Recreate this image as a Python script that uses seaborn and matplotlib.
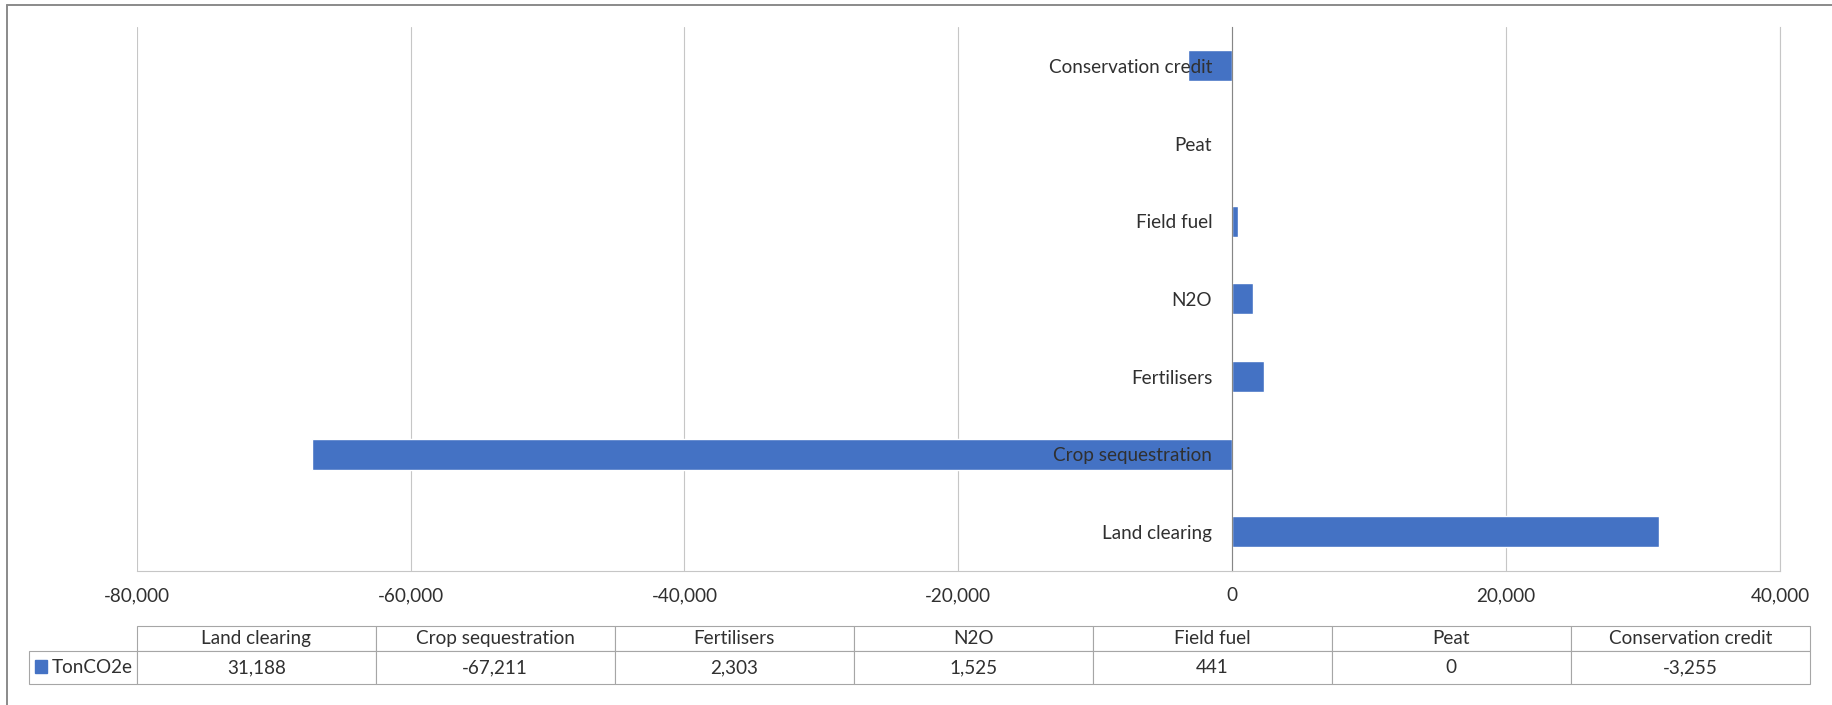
import matplotlib
matplotlib.use("Agg")
import matplotlib.pyplot as plt
import matplotlib.patches as mpatches
from matplotlib.lines import Line2D
from matplotlib.ticker import FuncFormatter
import seaborn as sns
import pandas as pd

# ---- data ----
categories = ["Land clearing", "Crop sequestration", "Fertilisers", "N2O",
              "Field fuel", "Peat", "Conservation credit"]
values = [31188, -67211, 2303, 1525, 441, 0, -3255]
series_name = "TonCO2e"
x_ticks = [-80000, -60000, -40000, -20000, 0, 20000, 40000]

BLUE = "#4472C4"
TXT = "#303030"
GRID = "#c6c6c6"

sns.set_style("white")
plt.rcParams["font.family"] = ["Lato", "DejaVu Sans"]
plt.rcParams["axes.unicode_minus"] = False
FS = 13.6

W, H = 1832, 705
fig = plt.figure(figsize=(W / 100, H / 100), dpi=100)
ax = fig.add_axes([136.7 / W, 1 - 570.7 / H, 1643.3 / W, 543.7 / H])

df = pd.DataFrame({"category": categories, "value": values})
sns.barplot(data=df, x="value", y="category", order=categories[::-1],
            color=BLUE, saturation=1, width=0.40, ax=ax, orient="h")

ax.set_xlim(x_ticks[0], x_ticks[-1])
ax.set_ylim(len(categories) - 0.5, -0.5)
ax.set_xticks(x_ticks)
ax.xaxis.set_major_formatter(FuncFormatter(lambda v, p: f"{v:,.0f}"))
ax.set_xlabel("")
ax.set_ylabel("")

# grid below bars, category labels above bars
ax.grid(axis="x", color=GRID, linewidth=0.8)
ax.grid(axis="y", visible=False)
ax.xaxis.set_zorder(0.5)
ax.yaxis.set_zorder(2.5)

# spines: zero line as the category axis
ax.spines["left"].set_position(("data", 0))
ax.spines["left"].set_color("#868686")
ax.spines["left"].set_linewidth(0.8)
ax.spines["top"].set_visible(False)
ax.spines["right"].set_color(GRID)
ax.spines["right"].set_linewidth(0.8)
ax.spines["bottom"].set_color(GRID)
ax.spines["bottom"].set_linewidth(0.8)

ax.tick_params(axis="x", length=0, pad=12, labelsize=FS, labelcolor=TXT)
ax.tick_params(axis="y", length=0, pad=14.4, labelsize=FS, labelcolor=TXT)

# ---- data table ----
col_labels = [""] + categories
cell_text = [[""] + [f"{v:,}" for v in values]]
first_w, col_w = 107.4, 239.0
tot_w = first_w + col_w * len(categories)
col_widths = [first_w / tot_w] + [col_w / tot_w] * len(categories)
tbl = ax.table(cellText=cell_text, colLabels=col_labels, colWidths=col_widths,
               cellLoc="center",
               bbox=[(29.3 - 136.7) / 1643.3, (570.7 - 684) / 543.7,
                     tot_w / 1643.3, (684 - 625.7) / 543.7])
tbl.auto_set_font_size(False)
tbl.set_fontsize(FS)
for (r, c), cell in tbl.get_celld().items():
    cell.set_edgecolor("#a6a6a6")
    cell.set_linewidth(0.8)
    cell.get_text().set_color(TXT)
    cell.set_height(25.3 if r == 0 else 33.0)
    if r == 0 and c == 0:
        cell.visible_edges = ""

# legend key inside the first data cell
leg = ax.legend(handles=[mpatches.Patch(color=BLUE)], labels=[series_name],
                loc="center left",
                bbox_to_anchor=((35 - 136.7) / 1643.3, (570.7 - 667.5) / 543.7),
                frameon=False, fontsize=FS, handlelength=0.65, handleheight=0.65,
                handletextpad=0.25, borderpad=0, borderaxespad=0)
for t in leg.get_texts():
    t.set_color(TXT)

# outer chart border (top and left visible in the reference crop)
fig.add_artist(Line2D([7.3 / W, 7.3 / W], [0, 1 - 5.3 / H], color="#8a8a8a", linewidth=1.4))
fig.add_artist(Line2D([7.3 / W, 1], [1 - 5.3 / H, 1 - 5.3 / H], color="#8a8a8a", linewidth=1.4))

fig.savefig("out.png", dpi=100)
